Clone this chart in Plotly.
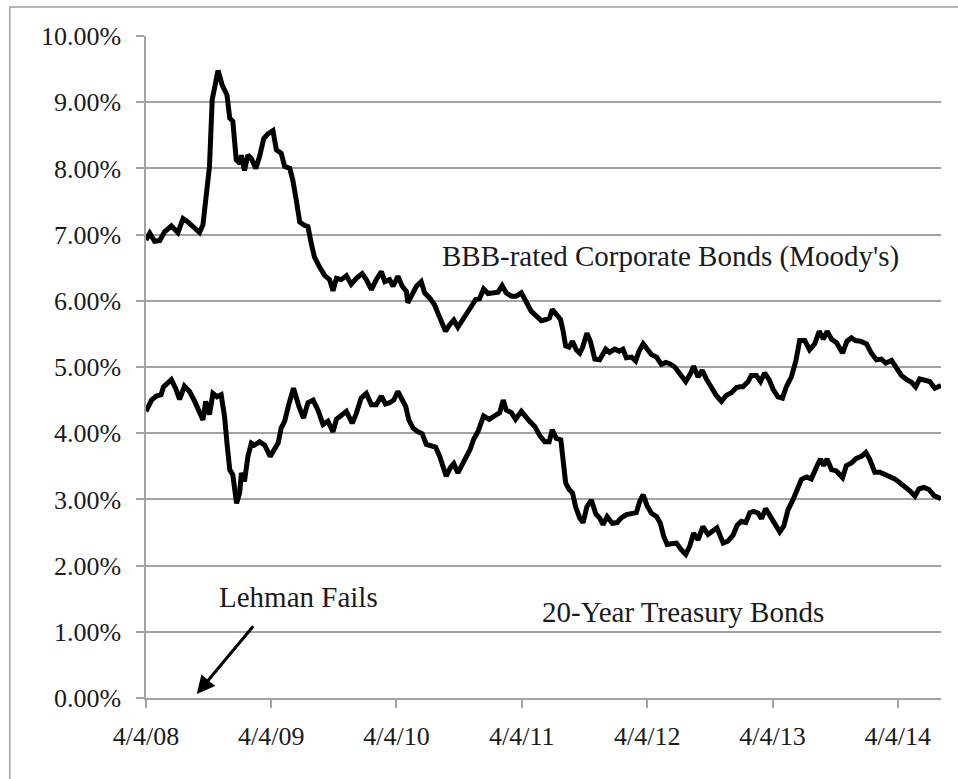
import plotly.graph_objects as go

bbb_dates = [
    "2008-04-04","2008-04-15","2008-04-29","2008-05-14","2008-05-28","2008-06-17","2008-07-06","2008-07-21",
    "2008-08-04","2008-08-24","2008-09-07","2008-09-17","2008-09-27","2008-10-06","2008-10-14","2008-10-31",
    "2008-11-12","2008-11-26","2008-12-04","2008-12-13","2008-12-23","2009-01-02","2009-01-07","2009-01-16",
    "2009-01-26","2009-02-05","2009-02-18","2009-03-01","2009-03-13","2009-03-25","2009-04-09","2009-04-19",
    "2009-05-03","2009-05-13","2009-05-28","2009-06-06","2009-06-16","2009-06-26","2009-07-10","2009-07-20",
    "2009-07-30","2009-08-08","2009-08-23","2009-09-07","2009-09-21","2009-10-01","2009-10-11","2009-10-25",
    "2009-11-09","2009-11-23","2009-12-08","2009-12-25","2010-01-06","2010-01-21","2010-02-04","2010-02-19",
    "2010-03-01","2010-03-15","2010-03-25","2010-04-08","2010-04-21","2010-05-03","2010-05-07","2010-05-17",
    "2010-06-01","2010-06-15","2010-06-25","2010-07-10","2010-07-24","2010-08-03","2010-08-13","2010-08-25",
    "2010-09-06","2010-09-18","2010-09-30","2010-10-13","2010-10-26","2010-11-08","2010-11-21","2010-12-02",
    "2010-12-14","2010-12-27","2011-01-10","2011-01-25","2011-02-06","2011-02-18","2011-03-05","2011-03-19",
    "2011-04-03","2011-04-17","2011-05-02","2011-05-17","2011-05-31","2011-06-15","2011-06-24","2011-07-02",
    "2011-07-14","2011-07-26","2011-08-02","2011-08-10","2011-08-20","2011-08-30","2011-09-10","2011-09-20",
    "2011-09-28","2011-10-11","2011-10-21","2011-11-03","2011-11-17","2011-12-05","2011-12-16","2011-12-31",
    "2012-01-13","2012-01-24","2012-02-03","2012-02-18","2012-03-01","2012-03-11","2012-03-23","2012-04-03",
    "2012-04-16","2012-05-01","2012-05-15","2012-05-28","2012-06-08","2012-06-23","2012-07-08","2012-07-25",
    "2012-08-08","2012-08-17","2012-08-30","2012-09-11","2012-09-23","2012-10-08","2012-10-22","2012-11-06",
    "2012-11-20","2012-12-05","2012-12-20","2012-12-30","2013-01-08","2013-01-23","2013-02-01","2013-02-16",
    "2013-02-28","2013-03-12","2013-03-25","2013-04-06","2013-04-20","2013-05-03","2013-05-14","2013-05-29",
    "2013-06-11","2013-06-22","2013-07-07","2013-07-21","2013-08-05","2013-08-18","2013-08-30","2013-09-10",
    "2013-09-23","2013-10-07","2013-10-25","2013-11-07","2013-11-20","2013-12-02","2013-12-16","2014-01-03",
    "2014-01-17","2014-02-01","2014-02-15","2014-02-28","2014-03-17","2014-04-01","2014-04-15","2014-04-30",
    "2014-05-14","2014-05-26","2014-06-07","2014-06-22","2014-07-06","2014-07-21","2014-08-08",
]
bbb_values = [
    6.92,7.02,6.90,6.91,7.04,7.13,7.03,7.24,
    7.19,7.08,7.03,7.15,7.67,8.03,9.04,9.48,
    9.26,9.11,8.76,8.71,8.13,8.08,8.20,7.97,
    8.20,8.15,8.00,8.18,8.45,8.52,8.57,8.28,
    8.23,8.03,8.00,7.82,7.52,7.19,7.14,7.12,
    6.86,6.66,6.51,6.38,6.32,6.15,6.34,6.32,
    6.38,6.25,6.34,6.41,6.32,6.17,6.32,6.44,
    6.29,6.32,6.22,6.37,6.22,6.14,5.97,6.07,
    6.22,6.29,6.12,6.04,5.94,5.81,5.69,5.54,
    5.64,5.71,5.60,5.71,5.79,5.91,6.02,6.03,
    6.18,6.11,6.12,6.13,6.23,6.12,6.07,6.07,
    6.12,5.99,5.84,5.77,5.70,5.72,5.74,5.87,
    5.79,5.72,5.56,5.32,5.30,5.39,5.26,5.21,
    5.29,5.51,5.39,5.12,5.11,5.27,5.22,5.27,
    5.24,5.27,5.14,5.15,5.09,5.24,5.35,5.27,
    5.19,5.15,5.04,5.07,5.05,5.00,4.91,4.78,
    4.90,5.01,4.85,4.95,4.82,4.68,4.57,4.48,
    4.57,4.61,4.69,4.70,4.70,4.78,4.87,4.87,
    4.78,4.91,4.81,4.66,4.55,4.53,4.70,4.85,
    5.09,5.40,5.40,5.26,5.35,5.54,5.42,5.54,
    5.42,5.37,5.21,5.39,5.44,5.40,5.39,5.35,
    5.21,5.11,5.12,5.06,5.10,4.98,4.87,4.81,
    4.77,4.70,4.82,4.80,4.78,4.68,4.72,
]

tsy_dates = [
    "2008-04-04","2008-04-10","2008-04-20","2008-05-04","2008-05-18","2008-05-25","2008-06-07","2008-06-17",
    "2008-06-29","2008-07-11","2008-07-25","2008-08-09","2008-08-24","2008-09-07","2008-09-17","2008-09-25",
    "2008-10-06","2008-10-16","2008-10-28","2008-11-09","2008-11-19","2008-11-26","2008-12-04","2008-12-13",
    "2008-12-24","2009-01-02","2009-01-07","2009-01-16","2009-01-26","2009-02-05","2009-02-14","2009-03-01",
    "2009-03-16","2009-04-01","2009-04-14","2009-04-24","2009-05-03","2009-05-13","2009-05-26","2009-06-08",
    "2009-06-24","2009-07-07","2009-07-20","2009-08-04","2009-08-18","2009-09-02","2009-09-16","2009-10-01",
    "2009-10-11","2009-10-25","2009-11-09","2009-11-26","2009-12-08","2009-12-22","2010-01-06","2010-01-21",
    "2010-02-04","2010-02-19","2010-03-03","2010-03-15","2010-03-27","2010-04-08","2010-04-21","2010-05-01",
    "2010-05-10","2010-05-22","2010-06-03","2010-06-18","2010-06-30","2010-07-14","2010-07-27","2010-08-08",
    "2010-08-18","2010-08-27","2010-09-08","2010-09-18","2010-09-30","2010-10-13","2010-10-25","2010-11-05",
    "2010-11-15","2010-11-28","2010-12-14","2010-12-30","2011-01-15","2011-01-30","2011-02-09","2011-02-18",
    "2011-03-05","2011-03-17","2011-04-03","2011-04-17","2011-04-27","2011-05-12","2011-05-26","2011-06-10",
    "2011-06-23","2011-07-02","2011-07-14","2011-07-27","2011-08-02","2011-08-10","2011-08-20","2011-08-30",
    "2011-09-08","2011-09-20","2011-09-30","2011-10-11","2011-10-24","2011-11-06","2011-11-17","2011-11-27",
    "2011-12-09","2011-12-24","2012-01-07","2012-01-19","2012-02-03","2012-02-18","2012-03-03","2012-03-13",
    "2012-03-23","2012-04-03","2012-04-16","2012-05-01","2012-05-12","2012-05-22","2012-06-01","2012-06-13",
    "2012-06-28","2012-07-12","2012-07-25","2012-08-06","2012-08-17","2012-08-30","2012-09-13","2012-09-28",
    "2012-10-13","2012-10-24","2012-11-11","2012-11-25","2012-12-10","2012-12-22","2013-01-03","2013-01-16",
    "2013-01-28","2013-02-08","2013-02-21","2013-03-03","2013-03-15","2013-03-27","2013-04-10","2013-04-25",
    "2013-05-07","2013-05-19","2013-06-03","2013-06-17","2013-06-27","2013-07-12","2013-07-26","2013-08-12",
    "2013-08-22","2013-08-31","2013-09-10","2013-09-23","2013-10-07","2013-10-25","2013-11-05","2013-11-20",
    "2013-12-04","2013-12-19","2014-01-01","2014-01-12","2014-01-27","2014-02-11","2014-02-25","2014-03-12",
    "2014-03-26","2014-04-10","2014-04-24","2014-05-09","2014-05-24","2014-06-05","2014-06-19","2014-07-04",
    "2014-07-18","2014-07-31","2014-08-08",
]
tsy_values = [
    4.33,4.40,4.50,4.56,4.58,4.70,4.75,4.81,
    4.68,4.51,4.71,4.63,4.48,4.33,4.20,4.48,
    4.28,4.60,4.55,4.58,4.25,3.85,3.45,3.37,
    2.94,3.10,3.40,3.27,3.65,3.85,3.82,3.87,
    3.82,3.65,3.77,3.85,4.08,4.18,4.45,4.68,
    4.40,4.23,4.46,4.50,4.35,4.13,4.18,4.02,
    4.21,4.28,4.33,4.15,4.30,4.53,4.60,4.43,
    4.43,4.56,4.44,4.46,4.50,4.63,4.51,4.40,
    4.20,4.08,4.03,3.99,3.83,3.81,3.79,3.65,
    3.48,3.35,3.48,3.54,3.40,3.55,3.65,3.76,
    3.91,4.03,4.26,4.21,4.26,4.31,4.50,4.35,
    4.31,4.21,4.33,4.23,4.18,4.10,3.97,3.87,
    3.87,4.05,3.92,3.90,3.65,3.25,3.15,3.10,
    2.89,2.72,2.65,2.89,2.99,2.78,2.72,2.62,
    2.74,2.64,2.65,2.72,2.77,2.78,2.80,2.97,
    3.07,2.91,2.79,2.74,2.64,2.44,2.32,2.33,
    2.34,2.24,2.17,2.30,2.49,2.39,2.59,2.47,
    2.52,2.57,2.34,2.37,2.46,2.61,2.67,2.65,
    2.80,2.82,2.79,2.71,2.86,2.75,2.61,2.51,
    2.60,2.84,3.00,3.15,3.30,3.34,3.31,3.51,
    3.61,3.51,3.61,3.45,3.43,3.33,3.51,3.55,
    3.62,3.65,3.71,3.61,3.41,3.41,3.38,3.36,
    3.31,3.25,3.20,3.13,3.05,3.16,3.18,3.15,
    3.06,3.03,3.01,
]

x_tick_dates = ["2008-04-04","2009-04-04","2010-04-04","2011-04-04","2012-04-04","2013-04-04","2014-04-04"]
x_tick_labels = ["4/4/08","4/4/09","4/4/10","4/4/11","4/4/12","4/4/13","4/4/14"]
y_ticks = [0,1,2,3,4,5,6,7,8,9,10]
y_tick_labels = ["0.00%","1.00%","2.00%","3.00%","4.00%","5.00%","6.00%","7.00%","8.00%","9.00%","10.00%"]

FONT = "Liberation Serif, Times New Roman, serif"
TXT = "#1a1a1a"
GRID = "#a3a3a3"

fig = go.Figure()
fig.add_trace(go.Scatter(x=bbb_dates, y=bbb_values, mode="lines",
                         line=dict(color="black", width=5), name="BBB"))
fig.add_trace(go.Scatter(x=tsy_dates, y=tsy_values, mode="lines",
                         line=dict(color="black", width=5), name="Treasury"))

fig.update_layout(
    width=958, height=779, autosize=False,
    margin=dict(l=146, r=17, t=36, b=81),
    paper_bgcolor="white", plot_bgcolor="white",
    showlegend=False,
    font=dict(family=FONT, color=TXT, size=26),
)
fig.update_xaxes(
    type="date", range=["2008-04-04", "2014-08-08"],
    tickmode="array", tickvals=x_tick_dates, ticktext=x_tick_labels,
    showgrid=False, zeroline=False,
    showline=True, linecolor=GRID, linewidth=1.5,
    ticks="outside", ticklen=8, tickcolor=GRID, tickwidth=1.5,
    tickfont=dict(family=FONT, size=26, color=TXT),
    ticklabelstandoff=6,
)
fig.update_yaxes(
    range=[0, 10], tickmode="array", tickvals=y_ticks, ticktext=y_tick_labels,
    showgrid=True, gridcolor=GRID, gridwidth=1.5, zeroline=False,
    showline=True, linecolor=GRID, linewidth=1.5,
    ticks="outside", ticklen=8, tickcolor=GRID, tickwidth=1.5,
    tickfont=dict(family=FONT, size=26, color=TXT),
    ticklabelstandoff=10,
)

ann_font = dict(family=FONT, size=29, color=TXT)
fig.add_annotation(x="2012-06-11", y=6.67, text="BBB-rated Corporate Bonds (Moody's)",
                   showarrow=False, font=ann_font, xanchor="center", yanchor="middle")
fig.add_annotation(x="2012-07-18", y=1.30, text="20-Year Treasury Bonds",
                   showarrow=False, font=ann_font, xanchor="center", yanchor="middle")
fig.add_annotation(x="2009-06-22", y=1.52, text="Lehman Fails",
                   showarrow=False, font=ann_font, xanchor="center", yanchor="middle")
fig.add_annotation(x="2008-08-30", y=0.06, ax="2009-02-14", ay=1.107,
                   xref="x", yref="y", axref="x", ayref="y", text="",
                   showarrow=True, arrowhead=2, arrowsize=1.2, arrowwidth=3,
                   arrowcolor="black", standoff=0, startstandoff=0)

fig.add_shape(type="rect", xref="paper", yref="paper",
              x0=-0.1714, x1=1.5, y0=-0.3, y1=1.0438,
              line=dict(color="#a0a0a0", width=1.5), fillcolor="rgba(0,0,0,0)", layer="below")

fig.write_html("out.html",
               config={"displayModeBar": False},
               post_script="document.body.style.margin='0';document.body.style.overflow='hidden';")
